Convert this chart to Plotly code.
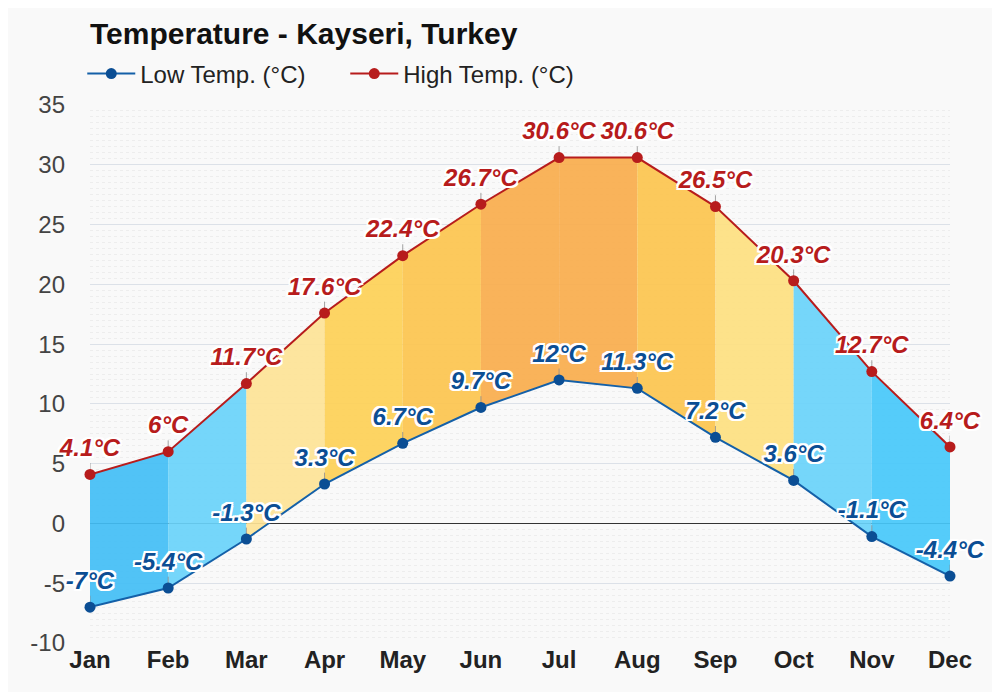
import plotly.graph_objects as go

months = ["Jan", "Feb", "Mar", "Apr", "May", "Jun", "Jul", "Aug", "Sep", "Oct", "Nov", "Dec"]
low_temp = [-7, -5.4, -1.3, 3.3, 6.7, 9.7, 12, 11.3, 7.2, 3.6, -1.1, -4.4]
high_temp = [4.1, 6, 11.7, 17.6, 22.4, 26.7, 30.6, 30.6, 26.5, 20.3, 12.7, 6.4]
y_ticks = [-10, -5, 0, 5, 10, 15, 20, 25, 30, 35]

# style: fill colour for each month-to-month band
band_colors = [
    "rgba(66,190,245,0.92)", "rgba(105,211,250,0.92)", "rgba(253,227,150,0.92)",
    "rgba(253,208,86,0.92)", "rgba(252,196,78,0.92)", "rgba(249,173,76,0.92)",
    "rgba(249,173,76,0.92)", "rgba(252,196,78,0.92)", "rgba(253,223,128,0.92)",
    "rgba(105,211,250,0.92)", "rgba(70,200,250,0.92)",
]

FONT = "Arial, 'Liberation Sans', Helvetica, sans-serif"
LOW_LINE = "#1460A8"
LOW_MARK = "#0B4E94"
HIGH_LINE = "#B71C1C"
HIGH_MARK = "#B71C1C"
SHADOW = ("-2px -2px 0 #fff, 2px -2px 0 #fff, -2px 2px 0 #fff, 2px 2px 0 #fff, "
          "0 -2px 0 #fff, 0 2px 0 #fff, -2px 0 0 #fff, 2px 0 0 #fff")

xs = list(range(len(months)))
fig = go.Figure()

# bands
for i in range(len(months) - 1):
    fig.add_trace(go.Scatter(
        x=[xs[i], xs[i + 1], xs[i + 1], xs[i], xs[i]],
        y=[low_temp[i], low_temp[i + 1], high_temp[i + 1], high_temp[i], low_temp[i]],
        mode="lines", fill="toself", fillcolor=band_colors[i],
        line=dict(width=0), showlegend=False, hoverinfo="skip",
    ))

def fmt(v):
    return f"{v:g}°C"

for name, vals, lc, mc in [("Low Temp. (°C)", low_temp, LOW_LINE, LOW_MARK),
                           ("High Temp. (°C)", high_temp, HIGH_LINE, HIGH_MARK)]:
    fig.add_trace(go.Scatter(
        x=xs, y=vals, mode="lines+markers", name=name,
        line=dict(color=lc, width=2),
        marker=dict(color=mc, size=11),
        error_y=dict(type="constant", value=0.95, symmetric=False, valueminus=0,
                     color="rgba(140,140,140,0.8)", thickness=1, width=0),
        cliponaxis=False,
    ))
    fig.add_trace(go.Scatter(
        x=xs, y=vals, mode="markers+text", showlegend=False, hoverinfo="skip",
        text=[fmt(v) for v in vals], textposition="top center",
        marker=dict(size=18, opacity=0),
        textfont=dict(family=FONT, size=24, color=mc, weight="bold", style="italic",
                      shadow=SHADOW),
        cliponaxis=False,
    ))

W, H = 984, 684
T, B = 97, 49
fig.update_layout(
    width=W, height=H,
    paper_bgcolor="#F9F9F9", plot_bgcolor="#F9F9F9",
    margin=dict(l=82, r=42, t=T, b=B),
    title=dict(text="<b>Temperature - Kayseri, Turkey</b>", x=0, xref="paper", xanchor="left",
               y=1 - 25 / H, yanchor="middle",
               font=dict(family=FONT, size=30, color="#111")),
    legend=dict(orientation="h", x=-0.009, xanchor="left", y=1 + (T - 66) / (H - T - B),
                yanchor="middle", itemwidth=48,
                font=dict(family=FONT, size=24, color="#222"), entrywidth=200,
                bgcolor="rgba(0,0,0,0)"),
    font=dict(family=FONT),
)
fig.update_xaxes(
    range=[0, 11], tickvals=xs, ticktext=[f"<b>{m}</b>" for m in months],
    showgrid=False, zeroline=False, showline=False, ticks="",
    tickfont=dict(family=FONT, size=24, color="#222"),
)
fig.update_yaxes(
    range=[-10, 35], tickvals=y_ticks, ticktext=[str(v) for v in y_ticks],
    showgrid=True, gridcolor="#DCE1E8", gridwidth=1,
    zeroline=True, zerolinecolor="#333", zerolinewidth=1,
    tickfont=dict(family=FONT, size=24, color="#444"),
    ticks="", ticklabelstandoff=24,
    minor=dict(dtick=0.5, showgrid=True, gridcolor="#EDEDED", griddash="dot", gridwidth=1),
)

fig.write_html("out.html")
